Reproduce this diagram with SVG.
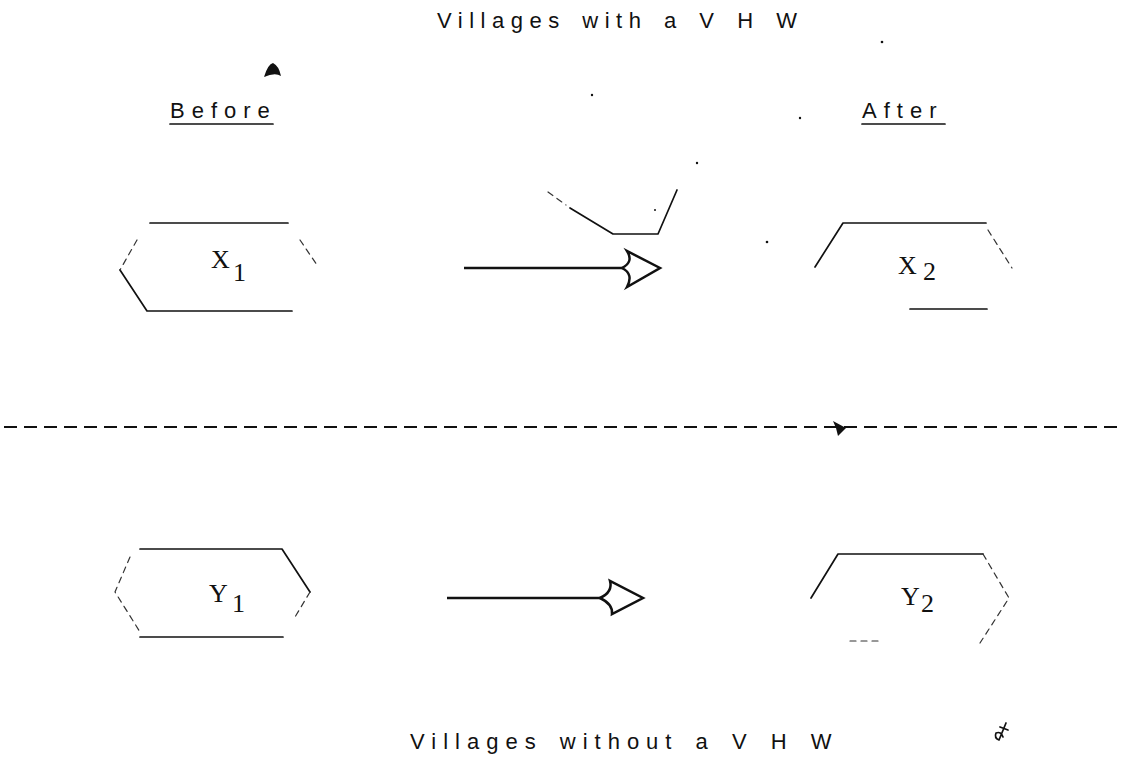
<svg xmlns="http://www.w3.org/2000/svg" width="1127" height="762" viewBox="0 0 1127 762">
  <style>
    .lbl { font-family: "Liberation Sans", Arial, sans-serif; font-size: 22px; fill: #111; letter-spacing: 6.5px; word-spacing: 4px; }
    .sym { font-family: "Liberation Serif", "Times New Roman", serif; font-size: 26px; fill: #111; }
    .edge { fill: none; stroke: #111; stroke-width: 1.7; stroke-linecap: round; stroke-linejoin: round; }
    .faint { fill: none; stroke: #333; stroke-width: 1.2; stroke-dasharray: 6 5; stroke-linecap: round; }
    .shaft { fill: none; stroke: #111; stroke-width: 2.5; }
    .head { fill: #fff; stroke: #111; stroke-width: 2.5; stroke-linejoin: miter; }
    .rule { fill: none; stroke: #111; stroke-width: 1.8; stroke-dasharray: 13 7; }
    .speck { fill: #111; }
  </style>

  <!-- headings -->
  <g id="headings">
    <text class="lbl" x="437" y="28">Villages with a V H W</text>
    <text class="lbl" x="170" y="118" style="letter-spacing:7px">Before</text>
    <line class="edge" x1="170" y1="124" x2="273" y2="124"/>
    <text class="lbl" x="862" y="118" style="letter-spacing:7px">After</text>
    <line class="edge" x1="862" y1="124" x2="945" y2="124"/>
    <text class="lbl" x="410" y="749" style="letter-spacing:7px">Villages without a V H W</text>
  </g>

  <!-- separator between the two village groups -->
  <line class="rule" x1="4" y1="427" x2="1124" y2="427"/>

  <!-- X1: before, with VHW -->
  <g id="X1">
    <path class="edge" d="M150,223 L288,223"/>
    <path class="edge" d="M120,270 L147,311 L292,311"/>
    <path class="faint" d="M137,240 L120,270"/>
    <path class="faint" d="M300,240 L317,265"/>
    <text class="sym" x="211" y="268">X</text>
    <text class="sym" x="233" y="281">1</text>
  </g>

  <!-- X2: after, with VHW -->
  <g id="X2">
    <path class="edge" d="M815,267 L843,223 L986,223"/>
    <path class="faint" d="M988,230 L1012,268"/>
    <path class="edge" d="M910,309 L987,309"/>
    <text class="sym" x="898" y="274">X</text>
    <text class="sym" x="923" y="280">2</text>
  </g>

  <!-- Y1: before, without VHW -->
  <g id="Y1">
    <path class="edge" d="M140,549 L282,549 L310,592"/>
    <path class="faint" d="M310,592 L295,617"/>
    <path class="edge" d="M140,637 L283,637"/>
    <path class="faint" d="M130,557 L115,592 L140,632"/>
    <text class="sym" x="209" y="602">Y</text>
    <text class="sym" x="232" y="612">1</text>
  </g>

  <!-- Y2: after, without VHW -->
  <g id="Y2">
    <path class="edge" d="M811,598 L838,554 L983,554"/>
    <path class="faint" d="M983,554 L1009,598 L980,643"/>
    <path class="faint" d="M850,641 L880,641"/>
    <text class="sym" x="901" y="605">Y</text>
    <text class="sym" x="921" y="612">2</text>
  </g>

  <!-- before-to-after arrows -->
  <g id="connectors">
    <line class="shaft" x1="464" y1="268" x2="624" y2="268"/>
    <path class="head" d="M622,268 Q634,262 627,251 L660,268 L627,287 Q634,274 622,268 Z"/>
    <line class="shaft" x1="447" y1="598" x2="602" y2="598"/>
    <path class="head" d="M600,598 Q613,592 610,581 L643,598 L612,614 Q613,604 600,598 Z"/>
  </g>

  <!-- stray pen marks -->
  <g id="marks">
    <path class="edge" d="M570,208 L613,234 L658,234 L677,190" stroke-width="1.8"/>
    <path class="faint" d="M548,192 L566,205"/>
    <path class="speck" d="M264,77 Q268,64 273,63 Q279,66 281,76 Q275,72 264,77 Z"/>
    <path class="speck" d="M833,421 L846,428 L838,436 L836,428 Z"/>
    <path class="edge" d="M1006,723 L999,740 Q994,738 996,733 Q1001,731 1003,737 M1000,727 L1008,730" stroke-width="2"/>
    <circle class="speck" cx="882" cy="42" r="1.3"/>
    <circle class="speck" cx="592" cy="95" r="1.2"/>
    <circle class="speck" cx="800" cy="118" r="1.2"/>
    <circle class="speck" cx="767" cy="242" r="1.3"/>
    <circle class="speck" cx="697" cy="163" r="1.2"/>
    <circle class="speck" cx="655" cy="210" r="1"/>
  </g>
</svg>
